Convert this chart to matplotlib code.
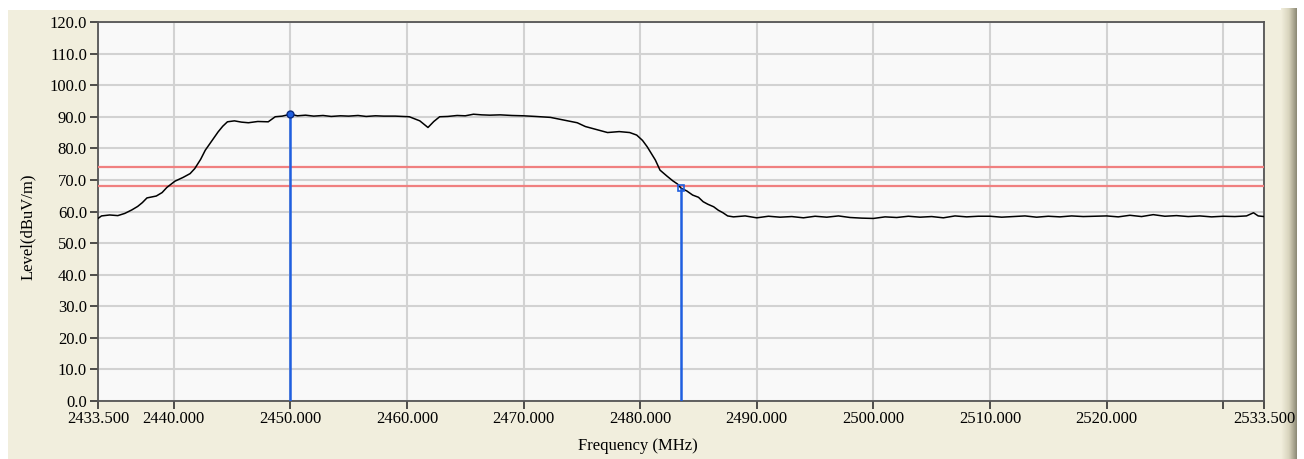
import numpy as np
import matplotlib
matplotlib.use("Agg")
import matplotlib.pyplot as plt
from matplotlib.patches import Rectangle

# trace (MHz, dBuV/m)
freq = [2433.5, 2433.8, 2434.5, 2435.2, 2435.8, 2436.4, 2436.9, 2437.3, 2437.7,
        2438.5, 2439.0, 2439.4, 2440.1, 2440.8, 2441.4, 2441.8, 2442.3, 2442.7,
        2443.1, 2443.8, 2444.2, 2444.6, 2445.2, 2445.8, 2446.4, 2447.2, 2448.1,
        2448.7, 2449.3, 2450.0, 2450.6, 2451.3, 2452.0, 2452.8, 2453.5, 2454.3,
        2455.0, 2455.8, 2456.5, 2457.3, 2458.0, 2459.0, 2460.2, 2461.1, 2461.8,
        2462.3, 2462.8, 2463.5, 2464.3, 2465.0, 2465.7, 2466.4, 2467.1, 2468.0,
        2469.0, 2470.0, 2471.0, 2472.3, 2473.4, 2474.6, 2475.3, 2476.0, 2477.2,
        2478.2, 2479.1, 2479.7, 2480.2, 2480.6, 2481.3, 2481.7, 2482.3, 2482.8,
        2483.2, 2483.5, 2484.0, 2484.5, 2485.0, 2485.4, 2485.8, 2486.3, 2486.7,
        2487.1, 2487.5, 2488.0, 2489.0, 2490.0, 2491.0, 2492.0, 2493.0, 2494.0,
        2495.0, 2496.0, 2497.0, 2498.0, 2499.0, 2500.0, 2501.0, 2502.0, 2503.0,
        2504.0, 2505.0, 2506.0, 2507.0, 2508.0, 2509.0, 2510.0, 2511.0, 2512.0,
        2513.0, 2514.0, 2515.0, 2516.0, 2517.0, 2518.0, 2519.0, 2520.0, 2521.0,
        2522.0, 2523.0, 2524.0, 2525.0, 2526.0, 2527.0, 2528.0, 2529.0, 2530.0,
        2531.0, 2532.0, 2532.6, 2533.0, 2533.5]
level = [57.8, 58.6, 58.9, 58.7, 59.4, 60.5, 61.6, 62.8, 64.3,
         64.9, 66.0, 67.6, 69.6, 70.8, 72.0, 73.6, 76.5, 79.4,
         81.5, 85.2, 87.0, 88.4, 88.7, 88.3, 88.1, 88.5, 88.4,
         90.0, 90.2, 90.8, 90.3, 90.5, 90.2, 90.4, 90.1, 90.3,
         90.2, 90.4, 90.1, 90.3, 90.2, 90.2, 90.0, 88.7, 86.6,
         88.5, 90.0, 90.1, 90.4, 90.3, 90.8, 90.6, 90.5, 90.6,
         90.4, 90.3, 90.1, 89.8, 89.0, 88.1, 86.9, 86.2, 85.0,
         85.3, 85.0, 84.2, 82.5, 80.5, 76.3, 73.1, 71.2, 69.7,
         68.7, 67.4, 66.5, 65.2, 64.5, 63.1, 62.3, 61.5, 60.4,
         59.6, 58.6, 58.3, 58.6, 58.0, 58.5, 58.2, 58.4, 58.0,
         58.5, 58.2, 58.6, 58.1, 57.9, 57.8, 58.3, 58.1, 58.5,
         58.2, 58.4, 58.0, 58.6, 58.3, 58.5, 58.5, 58.2, 58.4,
         58.6, 58.2, 58.5, 58.3, 58.6, 58.4, 58.5, 58.6, 58.3,
         58.8, 58.4, 59.0, 58.5, 58.7, 58.4, 58.6, 58.3, 58.5,
         58.4, 58.6, 59.6, 58.6, 58.4]

limit_lines = [74.0, 68.0]
marker_freq = [2450.0, 2483.5]
marker_level = [90.8, 67.4]

x_ticks = [2433.5, 2440, 2450, 2460, 2470, 2480, 2490, 2500, 2510, 2520, 2530, 2533.5]
x_labels = ["2433.500", "2440.000", "2450.000", "2460.000", "2470.000", "2480.000",
            "2490.000", "2500.000", "2510.000", "2520.000", "", "2533.500"]
y_ticks = np.arange(0, 121, 10)

W, H = 1304, 459
plt.rcParams['font.family'] = ['Liberation Serif', 'DejaVu Serif']

fig = plt.figure(figsize=(W / 100, H / 100), dpi=100, facecolor='white')

# window background and the shaded strip on the right
fig.patches.append(Rectangle((8 / W, 0), (1282 - 8) / W, (H - 10) / H,
                             transform=fig.transFigure, facecolor='#f1eedd',
                             edgecolor='none', zorder=-10))
strip = fig.add_axes([1281 / W, 0, 16 / W, (H - 8) / H], zorder=-5)
strip.imshow(np.linspace(0, 1, 32)[None, :], aspect='auto',
             cmap=matplotlib.colors.LinearSegmentedColormap.from_list(
                 'edge', ['#f1eedd', '#d8d4bd', '#8d8a76']))
strip.axis('off')

ax = fig.add_axes([98 / W, 58 / H, (1264 - 98) / W, (401 - 22) / H], zorder=5)
ax.set_facecolor('#f9f9f9')

ax.plot(freq, level, color='black', lw=1.1, zorder=4)
for lim in limit_lines:
    ax.axhline(lim, color='#f08080', lw=1.6, zorder=3)

ax.vlines(marker_freq, 0, marker_level, color='#1f5fe0', lw=1.8, zorder=5)
ax.plot(marker_freq[0], marker_level[0], 'o', ms=5, mfc='#1f5fe0', mec='#0a2a80', zorder=6)
ax.plot(marker_freq[1], marker_level[1], 's', ms=4.5, mfc='none', mec='#1f5fe0', mew=1.2, zorder=6)

ax.set_xlim(2433.5, 2533.5)
ax.set_ylim(0, 120)
ax.set_xticks(x_ticks)
ax.set_xticklabels(x_labels)
ax.set_yticks(y_ticks)
ax.set_yticklabels([f"{v:.1f}" for v in y_ticks])
ax.grid(True, color='#d2d2d2', lw=1.5)
ax.set_axisbelow(True)
ax.tick_params(axis='both', direction='out', length=6, width=1.2, colors='#303030',
               labelsize=12, labelcolor='black')
ax.tick_params(axis='y', pad=2)
ax.tick_params(axis='x', pad=1)
for s in ax.spines.values():
    s.set_color('#555555')
    s.set_linewidth(1.3)

fig.text(28 / W, 1 - 227 / H, "Level(dBuV/m)", rotation=90, ha='center', va='center', fontsize=12)
fig.text(638 / W, 1 - 446 / H, "Frequency (MHz)", ha='center', va='center', fontsize=12)

fig.savefig("out.png", dpi=100, facecolor=fig.get_facecolor())
